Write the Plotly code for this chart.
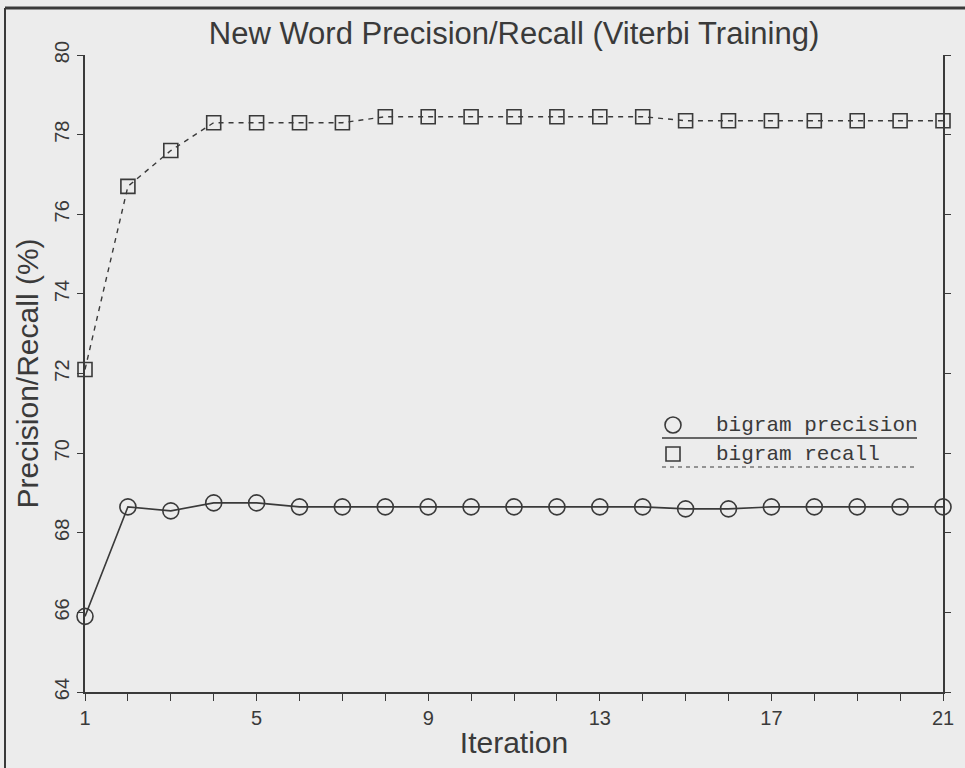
import plotly.graph_objects as go

iterations = list(range(1, 22))
bigram_precision = [65.9, 68.65, 68.55, 68.75, 68.75, 68.65, 68.65, 68.65, 68.65, 68.65, 68.65,
                    68.65, 68.65, 68.65, 68.6, 68.6, 68.65, 68.65, 68.65, 68.65, 68.65]
bigram_recall = [72.1, 76.7, 77.6, 78.3, 78.3, 78.3, 78.3, 78.45, 78.45, 78.45, 78.45,
                 78.45, 78.45, 78.45, 78.35, 78.35, 78.35, 78.35, 78.35, 78.35, 78.35]
x_tick_vals = [1, 5, 9, 13, 17, 21]
y_tick_vals = [64, 66, 68, 70, 72, 74, 76, 78, 80]
legend_labels = ["bigram precision", "bigram recall"]

INK = "#3a3a3a"
BG = "#ececec"
SANS = "Liberation Sans, Arial, sans-serif"
MONO = "Liberation Mono, Courier New, monospace"

fig = go.Figure()
fig.add_trace(go.Scatter(
    x=iterations, y=bigram_precision, mode="lines+markers", name=legend_labels[0],
    line=dict(color=INK, width=1.6),
    marker=dict(symbol="circle-open", size=16, color=INK, line=dict(width=1.6)),
    cliponaxis=False,
))
fig.add_trace(go.Scatter(
    x=iterations, y=bigram_recall, mode="lines+markers", name=legend_labels[1],
    line=dict(color=INK, width=1.4, dash="5px,5px"),
    marker=dict(symbol="square-open", size=14, color=INK, line=dict(width=1.6)),
    cliponaxis=False,
))

# custom legend (marker, text, line style underneath)
lx0, lx1 = (662 - 85) / 858, (917 - 85) / 858
tx = (714 - 85) / 858
rows = [(425, 438, "circle", "solid"), (454, 467, "rect", "dash")]
for (yc, yl, shp, dash), label in zip(rows, legend_labels):
    ypc = (692 - yc) / 637
    ypl = (692 - yl) / 637
    r = 8 if shp == "circle" else 7
    fig.add_shape(type=shp, xref="paper", yref="paper", xsizemode="pixel", ysizemode="pixel",
                  xanchor=(673 - 85) / 858, yanchor=ypc, x0=-r, x1=r, y0=-r, y1=r,
                  line=dict(color=INK, width=1.6))
    fig.add_annotation(xref="paper", yref="paper", x=tx, y=ypc, xanchor="left", yanchor="middle",
                       text=label, showarrow=False, font=dict(family=MONO, size=21, color=INK))
    fig.add_shape(type="line", xref="paper", yref="paper", x0=lx0, x1=lx1, y0=ypl, y1=ypl,
                  line=dict(color=INK, width=1.6 if dash == "solid" else 1.2,
                            dash="solid" if dash == "solid" else "4px,4px"))

# scanned page frame (left and top)
fig.add_shape(type="line", xref="paper", yref="paper", x0=(5 - 85) / 858, x1=(5 - 85) / 858,
              y0=(692 - 768) / 637, y1=(692 - 8) / 637, line=dict(color=INK, width=2))
fig.add_shape(type="line", xref="paper", yref="paper", x0=(5 - 85) / 858, x1=(965 - 85) / 858,
              y0=(692 - 8) / 637, y1=(692 - 8) / 637, line=dict(color=INK, width=3))

fig.update_layout(
    width=965, height=768,
    margin=dict(l=85, r=22, t=55, b=76),
    paper_bgcolor=BG, plot_bgcolor=BG,
    showlegend=False,
    font=dict(family=SANS, color=INK),
    title=dict(text="New Word Precision/Recall (Viterbi Training)", x=(85 + 858 / 2) / 965,
               xanchor="center", y=1 - 33 / 768, yanchor="middle",
               font=dict(family=SANS, size=31, color=INK)),
)
fig.update_xaxes(
    range=[1, 21], tickvals=x_tick_vals, ticks="outside", ticklen=7, tickwidth=1.3,
    tickcolor=INK, showline=True, linecolor=INK, linewidth=2.2, showgrid=False, zeroline=False,
    minor=dict(dtick=1, tick0=1, ticks="outside", ticklen=7, tickwidth=1.3, tickcolor=INK),
    tickfont=dict(size=20, color=INK),
    title=dict(text="Iteration", font=dict(size=30, color=INK), standoff=4),
)
fig.update_yaxes(
    range=[64, 80], tickvals=y_tick_vals, tickangle=-90, ticks="outside", ticklen=6,
    tickwidth=1.3, tickcolor=INK, showline=True, linecolor=INK, linewidth=1.6, mirror="ticks",
    showgrid=False, zeroline=False, tickfont=dict(size=20, color=INK),
    title=dict(text="Precision/Recall (%)", font=dict(size=30, color=INK), standoff=4),
)

fig.write_html("out.html", config={"displayModeBar": False},
               post_script="document.body.style.margin='0';document.body.style.overflow='hidden';")
